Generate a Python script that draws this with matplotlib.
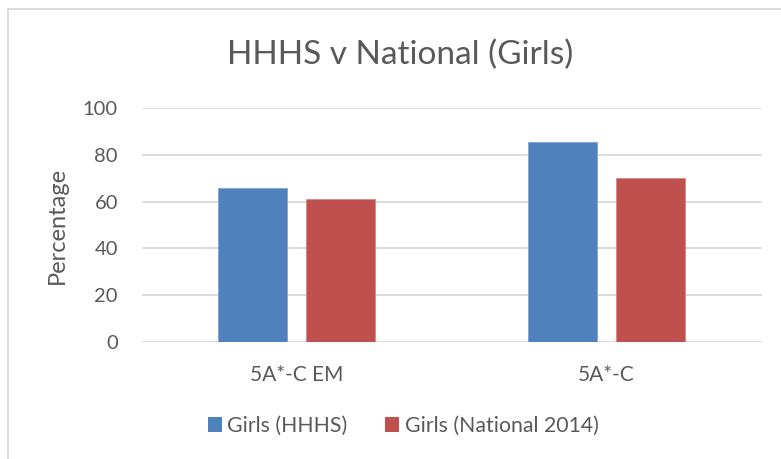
"""
HHHS vs National results for girls, grouped bar chart.
"""

import numpy as np
import matplotlib.pyplot as plt
from matplotlib.patches import Patch
from matplotlib.lines import Line2D

categories = ["5A*-C EM", "5A*-C"]
hhhs = [65.7, 85.7]
national = [61.0, 70.0]
series_labels = ["Girls (HHHS)", "Girls (National 2014)"]
yticks = [0, 20, 40, 60, 80, 100]

BLUE = "#4F81BD"
RED = "#C0504D"
TEXT = "#595959"
GRID = "#D9D9D9"

plt.rcParams["font.family"] = ["Lato", "DejaVu Sans"]

fig = plt.figure(figsize=(7.81, 4.59), dpi=100)
ax = fig.add_axes([141.5 / 781, 117.3 / 459, 620 / 781, 233.4 / 459])

x = np.arange(len(categories))
w = 0.224
off = 0.142
ax.bar(x - off, hhhs, w, color=BLUE, edgecolor="#7FA3D1", linewidth=0.6, zorder=3)
ax.bar(x + off, national, w, color=RED, edgecolor="#D58A88", linewidth=0.6, zorder=3)

ax.set_xlim(-0.5, len(categories) - 0.5)
ax.set_ylim(0, 100)
ax.set_yticks(yticks)
ax.yaxis.grid(True, color=GRID, linewidth=1.3, zorder=0)
ax.set_axisbelow(True)
for s in ["top", "right", "left", "bottom"]:
    ax.spines[s].set_visible(False)
ax.axhline(0, color=GRID, linewidth=1.3, zorder=2)
ax.tick_params(axis="both", length=0, colors=TEXT)
ax.tick_params(axis="y", pad=17, labelsize=14.5)
ax.tick_params(axis="x", pad=17, labelsize=15)
ax.set_xticks(x)
ax.set_xticklabels(categories)

ax.set_ylabel("Percentage", color=TEXT, fontsize=17, labelpad=11)
fig.text(400 / 781, 1 - 55 / 459, "HHHS v National (Girls)", ha="center", va="center",
         fontsize=24, color=TEXT)

handles = [Patch(facecolor=BLUE, edgecolor="none"), Patch(facecolor=RED, edgecolor="none")]
leg = fig.legend(handles, series_labels, loc="center", bbox_to_anchor=(403 / 781, 1 - 426 / 459),
                 ncol=2, frameon=False, fontsize=15.3, handlelength=0.68, handleheight=0.68,
                 handletextpad=0.25, columnspacing=1.75)
for t in leg.get_texts():
    t.set_color(TEXT)

# chart-area border (only top and left visible in the crop)
fig.add_artist(Line2D([8 / 781, 8 / 781], [0, 1 - 9 / 459], color=GRID, linewidth=1.3))
fig.add_artist(Line2D([8 / 781, 1], [1 - 9 / 459, 1 - 9 / 459], color=GRID, linewidth=1.3))

fig.savefig("out.png", dpi=100)
